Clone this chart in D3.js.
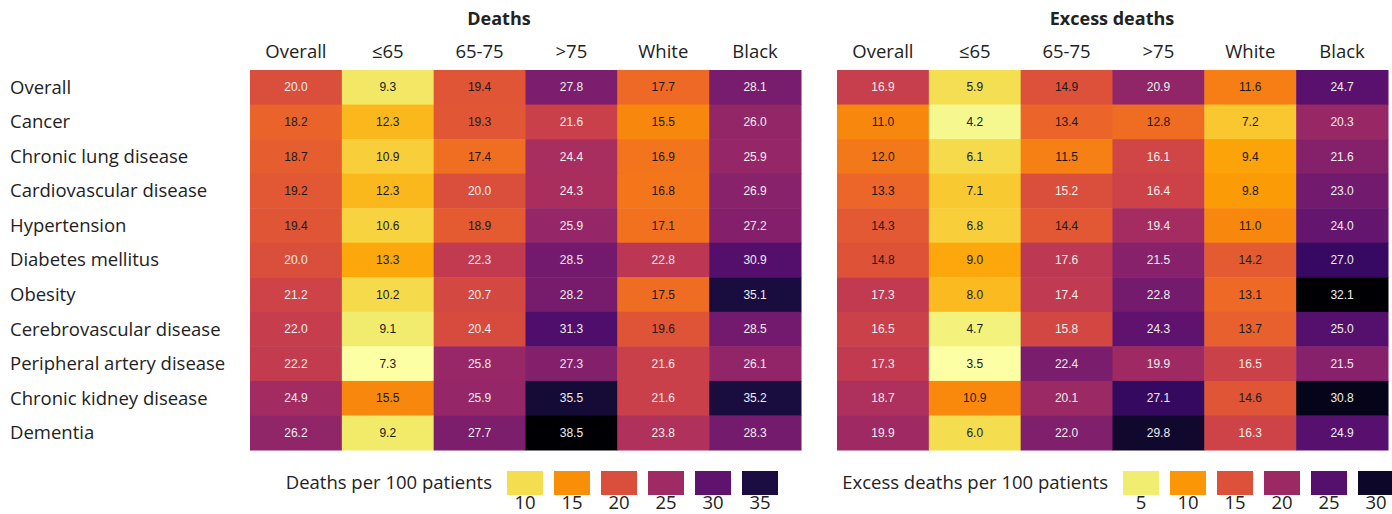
<!DOCTYPE html>
<html>
<head>
<meta charset="utf-8">
<script src="https://cdn.jsdelivr.net/npm/d3@7"></script>
<style>
  body { margin: 0; background: #fff; }
  svg text { font-family: "Open Sans", "Noto Sans", sans-serif; fill: #222; }
  svg text.cell-value { font-family: "Liberation Sans", Arial, sans-serif; font-size: 12px; }
</style>
</head>
<body>
<div id="chart"></div>
<script>
const conditions = ['Overall', 'Cancer', 'Chronic lung disease', 'Cardiovascular disease', 'Hypertension',
    'Diabetes mellitus', 'Obesity', 'Cerebrovascular disease', 'Peripheral artery disease',
    'Chronic kidney disease', 'Dementia'];
const groups = ['Overall', '≤65', '65-75', '>75', 'White', 'Black'];

// rows follow conditions, columns follow groups
const deaths = [
    [20.0, 9.3, 19.4, 27.8, 17.7, 28.1],
    [18.2, 12.3, 19.3, 21.6, 15.5, 26.0],
    [18.7, 10.9, 17.4, 24.4, 16.9, 25.9],
    [19.2, 12.3, 20.0, 24.3, 16.8, 26.9],
    [19.4, 10.6, 18.9, 25.9, 17.1, 27.2],
    [20.0, 13.3, 22.3, 28.5, 22.8, 30.9],
    [21.2, 10.2, 20.7, 28.2, 17.5, 35.1],
    [22.0, 9.1, 20.4, 31.3, 19.6, 28.5],
    [22.2, 7.3, 25.8, 27.3, 21.6, 26.1],
    [24.9, 15.5, 25.9, 35.5, 21.6, 35.2],
    [26.2, 9.2, 27.7, 38.5, 23.8, 28.3]
];
const excessDeaths = [
    [16.9, 5.9, 14.9, 20.9, 11.6, 24.7],
    [11.0, 4.2, 13.4, 12.8, 7.2, 20.3],
    [12.0, 6.1, 11.5, 16.1, 9.4, 21.6],
    [13.3, 7.1, 15.2, 16.4, 9.8, 23.0],
    [14.3, 6.8, 14.4, 19.4, 11.0, 24.0],
    [14.8, 9.0, 17.6, 21.5, 14.2, 27.0],
    [17.3, 8.0, 17.4, 22.8, 13.1, 32.1],
    [16.5, 4.7, 15.8, 24.3, 13.7, 25.0],
    [17.3, 3.5, 22.4, 19.9, 16.5, 21.5],
    [18.7, 10.9, 20.1, 27.1, 14.6, 30.8],
    [19.9, 6.0, 22.0, 29.8, 16.3, 24.9]
];
const deathsLegendTicks = [10, 15, 20, 25, 30, 35];
const excessLegendTicks = [5, 10, 15, 20, 25, 30];

const width = 1392, height = 514;
const labelSize = 18.5;
const svg = d3.select('#chart').append('svg')
    .attr('width', width)
    .attr('height', height);

const y = d3.scaleBand().domain(conditions).range([70, 450]);

svg.append('g').selectAll('text')
    .data(conditions)
    .enter().append('text')
    .attr('x', 10)
    .attr('y', d => y(d) + y.bandwidth() / 2)
    .attr('dy', '0.35em')
    .attr('font-size', labelSize)
    .text(d => d);

function drawPanel(cfg) {
    const x = d3.scaleBand().domain(groups).range([cfg.left, cfg.right]);
    const flat = cfg.values.flat();
    const color = d3.scaleSequential(t => d3.interpolateInferno(1 - t))
        .domain(d3.extent(flat));
    const g = svg.append('g');

    g.append('text')
        .attr('x', cfg.titleX)
        .attr('y', 19)
        .attr('dy', '0.35em')
        .attr('text-anchor', 'middle')
        .attr('font-size', 18)
        .attr('font-weight', 'bold')
        .text(cfg.title);

    g.selectAll('.col-label')
        .data(groups)
        .enter().append('text')
        .attr('class', 'col-label')
        .attr('x', d => x(d) + x.bandwidth() / 2)
        .attr('y', 52)
        .attr('dy', '0.35em')
        .attr('text-anchor', 'middle')
        .attr('font-size', labelSize)
        .text(d => d);

    const cells = [];
    cfg.values.forEach((row, i) => row.forEach((v, j) => {
        cells.push({row: conditions[i], col: groups[j], value: v});
    }));

    g.selectAll('.cell')
        .data(cells)
        .enter().append('rect')
        .attr('class', 'cell')
        .attr('x', d => x(d.col))
        .attr('y', d => y(d.row))
        .attr('width', x.bandwidth() + 0.5)
        .attr('height', y.bandwidth() + 0.5)
        .attr('fill', d => color(d.value));

    const norm = d3.scaleLinear().domain(d3.extent(flat)).range([0, 1]);
    g.selectAll('.cell-value')
        .data(cells)
        .enter().append('text')
        .attr('class', 'cell-value')
        .attr('x', d => x(d.col) + x.bandwidth() / 2)
        .attr('y', d => y(d.row) + y.bandwidth() / 2)
        .attr('dy', '0.35em')
        .attr('text-anchor', 'middle')
        .style('fill', d => norm(d.value) > 0.4 ? '#eeeeee' : '#1a1a1a')
        .text(d => d.value.toFixed(1));

    // legend
    const swatch = 36, step = 47;
    const lg = g.append('g');
    lg.append('text')
        .attr('x', cfg.legendX - 15)
        .attr('y', 483)
        .attr('dy', '0.35em')
        .attr('text-anchor', 'end')
        .attr('font-size', labelSize)
        .text(cfg.legendTitle);
    lg.selectAll('rect')
        .data(cfg.ticks)
        .enter().append('rect')
        .attr('x', (d, i) => cfg.legendX + i * step)
        .attr('y', 471)
        .attr('width', swatch)
        .attr('height', 24)
        .attr('fill', d => color(d));
    lg.selectAll('.tick-label')
        .data(cfg.ticks)
        .enter().append('text')
        .attr('class', 'tick-label')
        .attr('x', (d, i) => cfg.legendX + i * step + swatch / 2)
        .attr('y', 509)
        .attr('text-anchor', 'middle')
        .attr('font-size', labelSize)
        .text(d => d);
}

drawPanel({
    title: 'Deaths', titleX: 499, left: 250, right: 801,
    values: deaths, legendTitle: 'Deaths per 100 patients',
    legendX: 507, ticks: deathsLegendTicks
});
drawPanel({
    title: 'Excess deaths', titleX: 1112, left: 837, right: 1388,
    values: excessDeaths, legendTitle: 'Excess deaths per 100 patients',
    legendX: 1123, ticks: excessLegendTicks
});
</script>
</body>
</html>
